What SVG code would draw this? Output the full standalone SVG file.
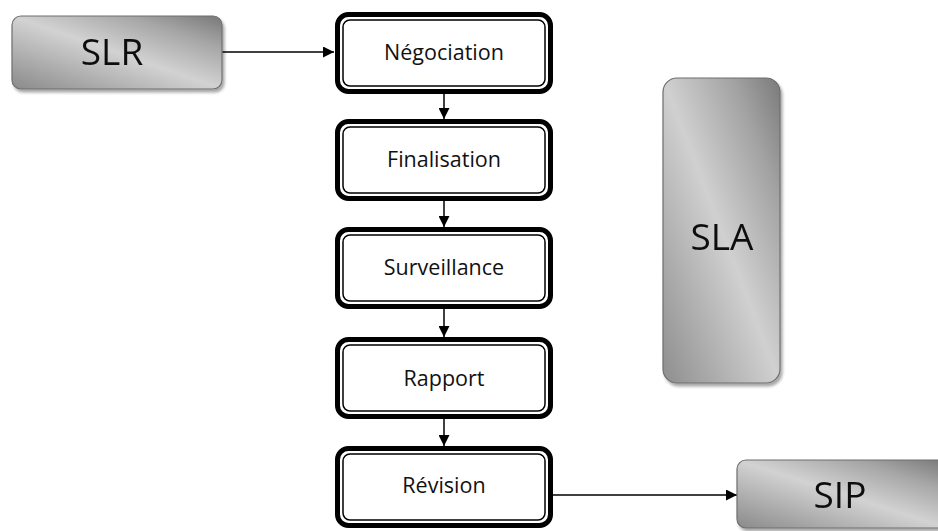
<svg xmlns="http://www.w3.org/2000/svg" width="938" height="531" viewBox="0 0 938 531">
  <style>
    .step-outer { fill: #ffffff; stroke: #000000; stroke-width: 5; }
    .step-inner { fill: none; stroke: #000000; stroke-width: 1.5; }
    .step-label { font-family: "Open Sans", "Noto Sans", sans-serif; font-size: 21.5px; fill: #111111; text-anchor: middle; }
    .metal { stroke: #6f6f6f; stroke-width: 1.2; }
    .metal-label { font-family: "Open Sans", "Noto Sans", sans-serif; font-size: 37px; fill: #111111; text-anchor: middle; }
    .conn { stroke: #000000; stroke-width: 1.5; fill: none; marker-end: url(#head); }
  </style>
  <defs>
    <linearGradient id="metalH" x1="0" y1="1" x2="1" y2="0">
      <stop offset="0" stop-color="#8a8a8a"/>
      <stop offset="0.5" stop-color="#d2d2d2"/>
      <stop offset="0.78" stop-color="#a6a6a6"/>
      <stop offset="1" stop-color="#787878"/>
    </linearGradient>
    <linearGradient id="metalV" x1="0" y1="1" x2="1" y2="0">
      <stop offset="0" stop-color="#8e8e8e"/>
      <stop offset="0.5" stop-color="#d0d0d0"/>
      <stop offset="0.8" stop-color="#a2a2a2"/>
      <stop offset="1" stop-color="#7a7a7a"/>
    </linearGradient>
    <filter id="shadow" x="-10%" y="-10%" width="125%" height="125%">
      <feGaussianBlur in="SourceAlpha" stdDeviation="1.5"/>
      <feOffset dx="2" dy="3" result="off"/>
      <feComponentTransfer><feFuncA type="linear" slope="0.35"/></feComponentTransfer>
      <feMerge><feMergeNode/><feMergeNode in="SourceGraphic"/></feMerge>
    </filter>
    <marker id="head" viewBox="0 0 10 10" refX="10" refY="5" markerWidth="11" markerHeight="11" markerUnits="userSpaceOnUse" orient="auto">
      <path d="M0,0 L10,5 L0,10 Z" fill="#000000"/>
    </marker>
  </defs>

  <rect width="938" height="531" fill="#ffffff"/>

  <!-- connectors -->
  <g id="connectors">
    <line class="conn" x1="222" y1="52" x2="334" y2="52"/>
    <line class="conn" x1="444" y1="94" x2="444" y2="119"/>
    <line class="conn" x1="444" y1="201" x2="444" y2="227"/>
    <line class="conn" x1="444" y1="309" x2="444" y2="337"/>
    <line class="conn" x1="444" y1="419" x2="444" y2="446"/>
    <line class="conn" x1="553" y1="495" x2="737" y2="495"/>
  </g>

  <!-- grey side blocks -->
  <g id="slr" filter="url(#shadow)">
    <rect class="metal" x="12" y="16" width="210" height="73" rx="9" fill="url(#metalH)"/>
    <text class="metal-label" x="112" y="65">SLR</text>
  </g>
  <g id="sla" filter="url(#shadow)">
    <rect class="metal" x="663" y="78" width="117" height="305" rx="14" fill="url(#metalV)"/>
    <text class="metal-label" x="722" y="250">SLA</text>
  </g>
  <g id="sip" filter="url(#shadow)">
    <rect class="metal" x="737" y="460" width="210" height="68" rx="9" fill="url(#metalH)"/>
    <text class="metal-label" x="840" y="508">SIP</text>
  </g>

  <!-- process steps -->
  <g id="negociation">
    <rect class="step-outer" x="337.5" y="14.5" width="213" height="77" rx="11"/>
    <rect class="step-inner" x="343" y="20" width="202" height="66" rx="7"/>
    <text class="step-label" x="444" y="60">Négociation</text>
  </g>
  <g id="finalisation">
    <rect class="step-outer" x="337.5" y="121.5" width="213" height="77" rx="11"/>
    <rect class="step-inner" x="343" y="127" width="202" height="66" rx="7"/>
    <text class="step-label" x="444" y="167">Finalisation</text>
  </g>
  <g id="surveillance">
    <rect class="step-outer" x="337.5" y="229.5" width="213" height="77" rx="11"/>
    <rect class="step-inner" x="343" y="235" width="202" height="66" rx="7"/>
    <text class="step-label" x="444" y="275">Surveillance</text>
  </g>
  <g id="rapport">
    <rect class="step-outer" x="337.5" y="339.5" width="213" height="77" rx="11"/>
    <rect class="step-inner" x="343" y="345" width="202" height="66" rx="7"/>
    <text class="step-label" x="444" y="386">Rapport</text>
  </g>
  <g id="revision">
    <rect class="step-outer" x="337.5" y="448.5" width="213" height="77" rx="11"/>
    <rect class="step-inner" x="343" y="454" width="202" height="66" rx="7"/>
    <text class="step-label" x="444" y="493">Révision</text>
  </g>
</svg>
